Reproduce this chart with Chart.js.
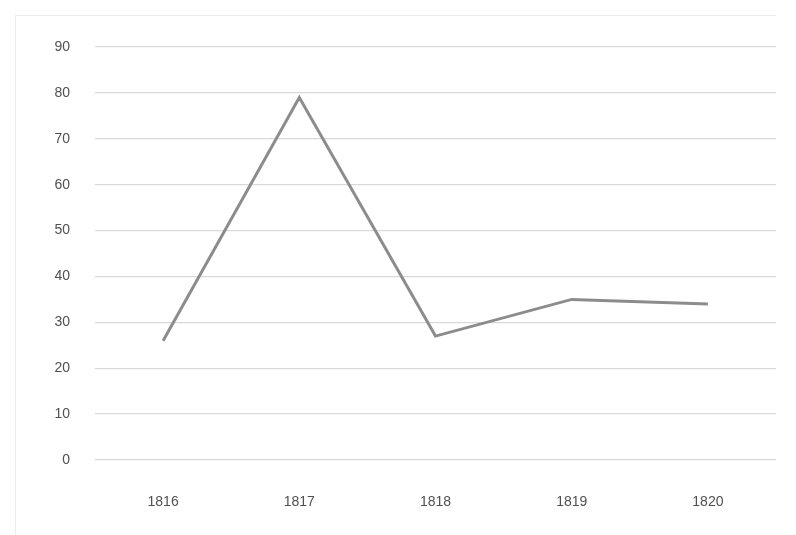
<!DOCTYPE html>
<html>
<head>
<meta charset="utf-8">
<script src="https://cdn.jsdelivr.net/npm/chart.js@4/dist/chart.umd.min.js"></script>
<style>
  html, body { margin: 0; padding: 0; background: #ffffff; }
  #wrap { position: relative; width: 796px; height: 535px; }
  #frame {
    position: absolute; left: 15px; top: 15px; width: 760px; height: 520px;
    border-top: 1px solid #ececec; border-left: 1px solid #ececec;
    pointer-events: none;
  }
</style>
</head>
<body>
<div id="wrap">
  <canvas id="chart" width="796" height="535"></canvas>
  <div id="frame"></div>
</div>
<script>
// Años y valores de la serie
const years = ["1816", "1817", "1818", "1819", "1820"];
const values = [26, 79, 27, 35, 34];
const yTicks = [0, 10, 20, 30, 40, 50, 60, 70, 80, 90];

const ctx = document.getElementById("chart").getContext("2d");

new Chart(ctx, {
    type: 'line',
    data: {
        labels: years,
        datasets: [{
            data: values,
            borderColor: '#8c8c8c',
            borderWidth: 3,
            pointRadius: 0,
            tension: 0,
            fill: false
        }]
    },
    options: {
        responsive: false,
        animation: false,
        layout: { padding: { top: 47, right: 20, left: 0, bottom: 0 } },
        plugins: {
            legend: { display: false },
            tooltip: { enabled: false }
        },
        scales: {
            x: {
                offset: true,
                grid: { display: false },
                border: { display: false },
                ticks: {
                    color: '#505050',
                    font: { family: 'Liberation Sans', size: 14 },
                    padding: 26,
                    maxRotation: 0
                },
                afterFit: (scale) => { scale.height = 75; }
            },
            y: {
                min: 0,
                max: 90,
                afterBuildTicks: (scale) => { scale.ticks = yTicks.map(v => ({ value: v })); },
                grid: { color: '#d9d9d9', lineWidth: 1.3, drawTicks: false },
                border: { display: false },
                ticks: {
                    color: '#505050',
                    font: { family: 'Liberation Sans', size: 14 },
                    padding: 25
                },
                afterFit: (scale) => { scale.width = 95; }
            }
        }
    }
});
</script>
</body>
</html>
